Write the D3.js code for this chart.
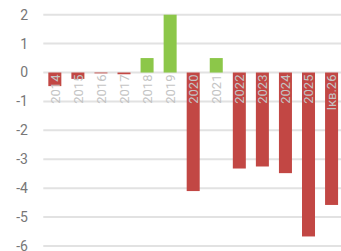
<!DOCTYPE html>
<html><head><meta charset="utf-8">
<script src="https://cdn.jsdelivr.net/npm/d3@7"></script>
<style>body{margin:0;background:#fff}svg{display:block}</style>
</head><body><svg id="c" width="341" height="251"></svg>
<script>
const categories = ["2014","2015","2016","2017","2018","2019","2020","2021","2022","2023","2024","2025","Iкв.26"];
const values = [-0.47, -0.22, -0.03, -0.06, 0.5, 2.0, -4.1, 0.5, -3.32, -3.25, -3.48, -5.67, -4.58];
const yTicks = [2,1,0,-1,-2,-3,-4,-5,-6];

const svg = d3.select("#c");
const y = d3.scaleLinear().domain([-6, 2]).range([246, 14.7]);
const x = d3.scaleBand().domain(categories).range([43.3, 343.1]).paddingInner(0.436).paddingOuter(0.218);

svg.append("g").selectAll("line").data(yTicks).join("line")
  .attr("x1", 43.3).attr("x2", 341)
  .attr("y1", d => y(d)).attr("y2", d => y(d))
  .attr("stroke", "#e2e2e2").attr("stroke-width", 2);

svg.append("g").selectAll("text").data(yTicks).join("text")
  .attr("x", 28).attr("y", d => y(d)).attr("dy", "0.35em")
  .attr("text-anchor", "end").attr("font-family", "Roboto").attr("font-size", 14)
  .attr("fill", "#777").text(d => d);

svg.append("g").selectAll("rect").data(values).join("rect")
  .attr("x", (d,i) => x(categories[i])).attr("width", x.bandwidth())
  .attr("y", d => y(Math.max(0, d))).attr("height", d => Math.abs(y(d) - y(0)))
  .attr("fill", d => d >= 0 ? "#8cc749" : "#c24744");

svg.append("g").selectAll("text").data(categories).join("text")
  .attr("transform", d => `translate(${x(d) + x.bandwidth()/2},${y(0) + 2}) rotate(-90)`)
  .attr("dy", "0.36em").attr("text-anchor", "end")
  .attr("font-family", "Roboto").attr("font-size", 13)
  .attr("fill", "#c4c4c4").text(d => d);
</script></body></html>
